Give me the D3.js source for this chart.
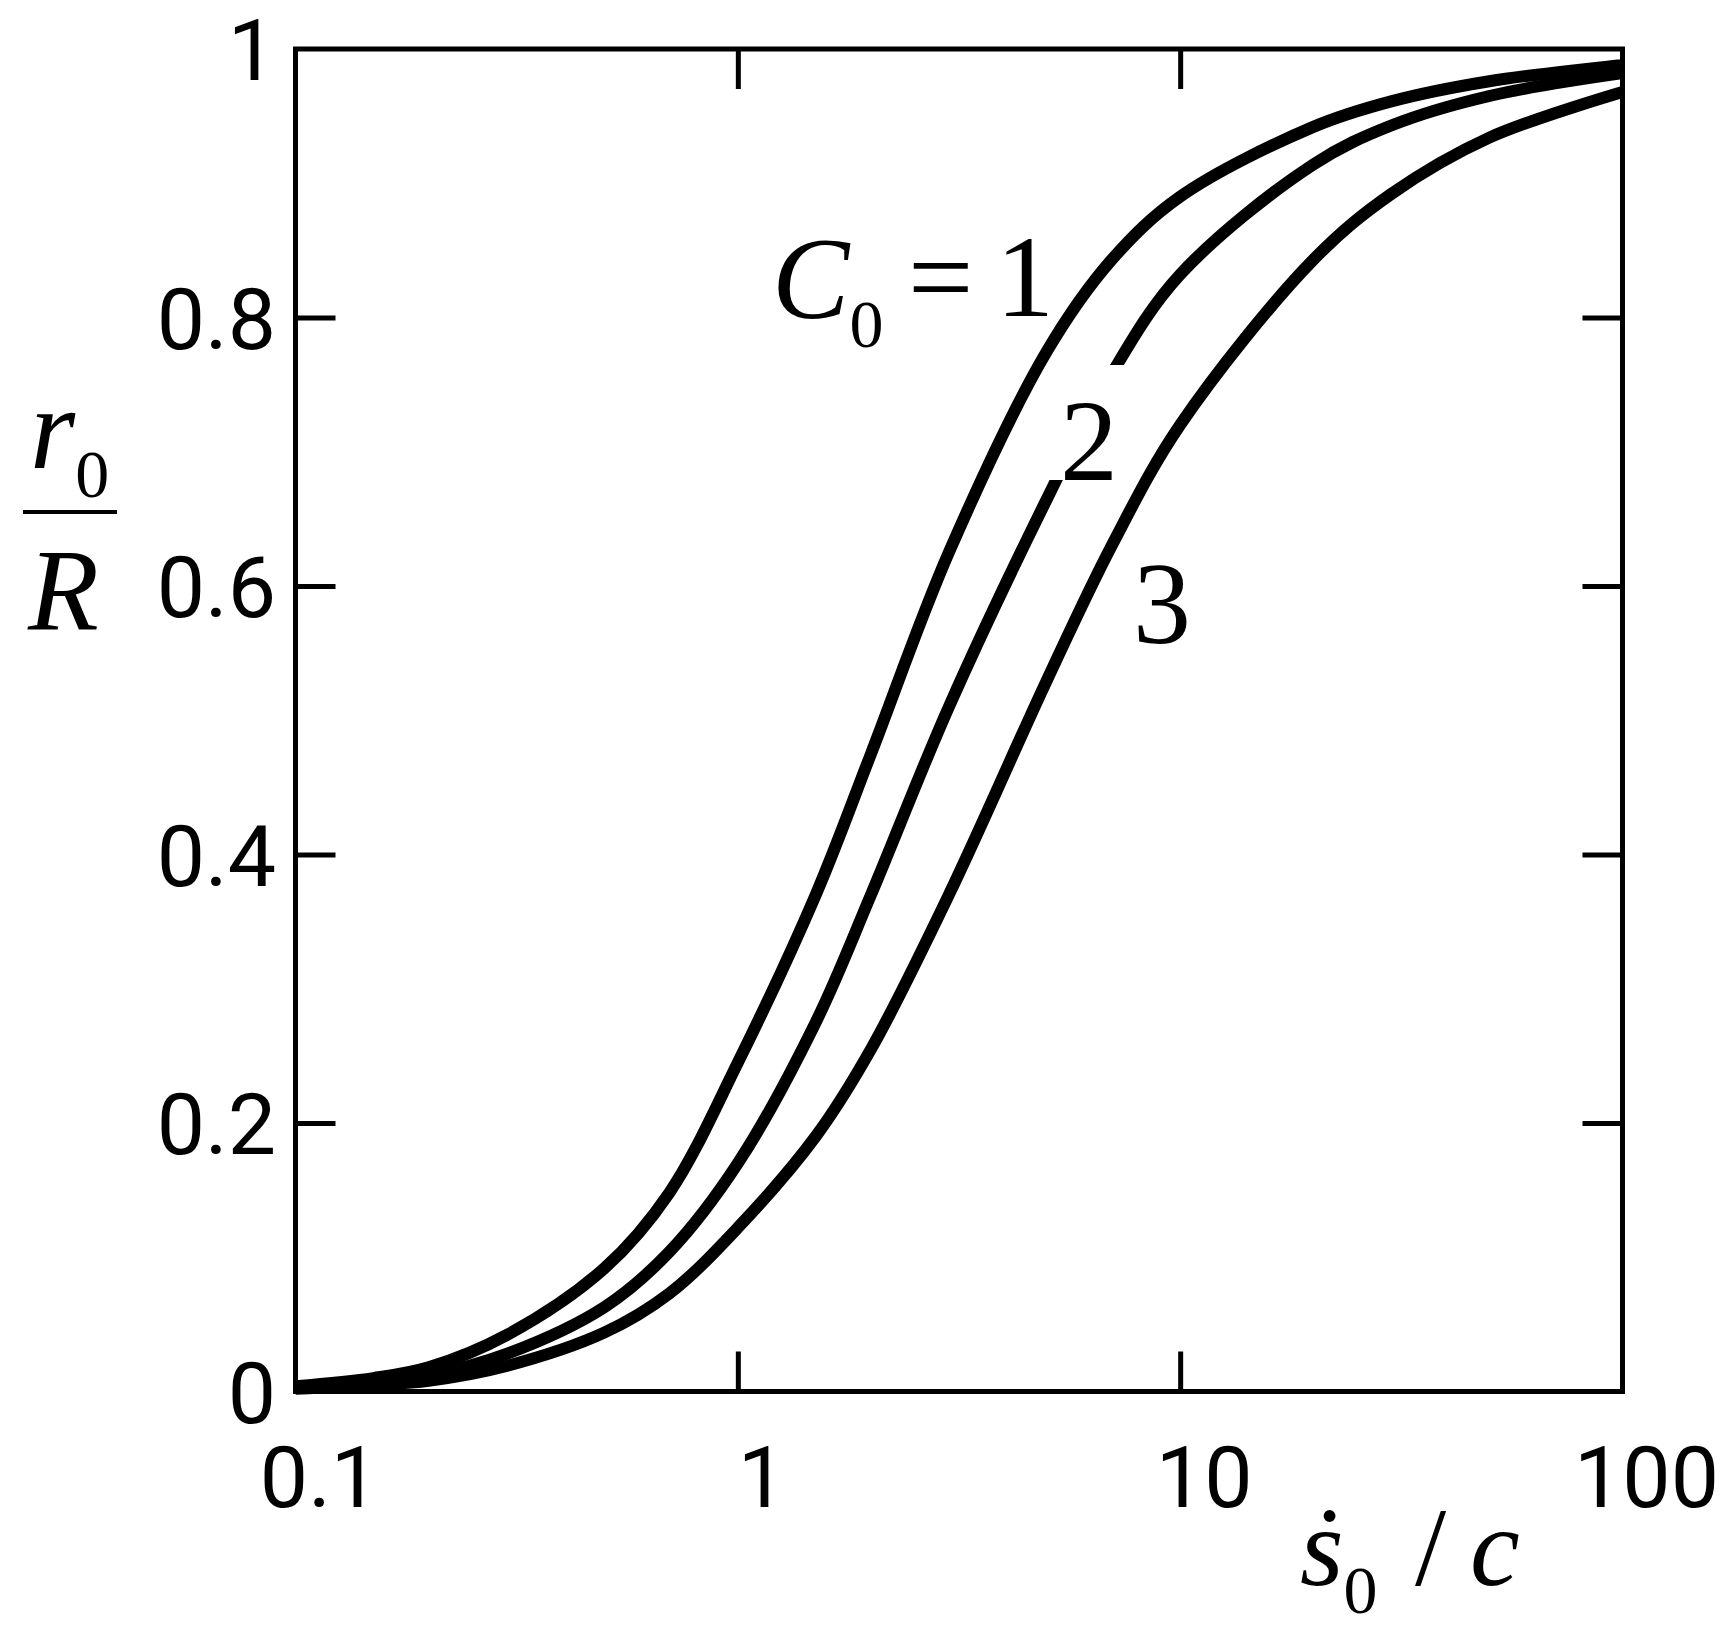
<!DOCTYPE html>
<html lang="en">
<head>
    <meta charset="UTF-8">
    <title>r0/R vs s0/c</title>
    <style>
        html,body{
            margin: 0;
            padding: 0;
            background: #fff;
        }
        svg text{
            fill: #000;
        }
    </style>
</head>
<body>
<div id="container"></div>

<script src="https://d3js.org/d3.v7.min.js"></script>
<script>
    // values
    const sValues = [0.1, 0.15, 0.2, 0.3, 0.5, 0.7, 1, 1.5, 2, 3, 5, 7, 10, 20, 30, 50, 100]
    const curveC1 = [0.004, 0.01, 0.018, 0.042, 0.092, 0.148, 0.245, 0.37, 0.475, 0.625, 0.775, 0.843, 0.89, 0.942, 0.961, 0.976, 0.988]
    const curveC2 = [0.003, 0.007, 0.012, 0.028, 0.063, 0.104, 0.17, 0.275, 0.37, 0.51, 0.665, 0.758, 0.832, 0.914, 0.943, 0.965, 0.982]
    const curveC3 = [0.002, 0.005, 0.008, 0.019, 0.044, 0.073, 0.122, 0.19, 0.255, 0.37, 0.53, 0.63, 0.72, 0.843, 0.892, 0.934, 0.968]
    const xTicks = [0.1, 1, 10, 100]
    const xTickLabels = ['0.1', '1', '10', '100']
    const yTicks = [0, 0.2, 0.4, 0.6, 0.8, 1]
    const yTickLabels = ['0', '0.2', '0.4', '0.6', '0.8', '1']

    const sansFont = 'Roboto, "Liberation Sans", Arial, sans-serif'
    const serifFont = '"Liberation Serif", "Times New Roman", serif'

    const [width, height] = [1731, 1645]
    const plot = {left: 295.5, right: 1622.5, top: 49, bottom: 1391.5}

    const svg = d3.select('#container').append('svg')
        .attr('width', width)
        .attr('height', height)

    const x = d3.scaleLog().domain([0.1, 100]).range([plot.left, plot.right])
    const y = d3.scaleLinear().domain([0, 1]).range([plot.bottom, plot.top])

    // ticks point inward on all four sides
    const tickLen = 40
    function styleAxis(g) {
        g.select('.domain').remove()
        g.selectAll('.tick line').attr('stroke', '#000').attr('stroke-width', 5)
        g.selectAll('.tick text').remove()
    }
    svg.append('g').attr('transform', `translate(0,${plot.bottom})`)
        .call(d3.axisBottom(x).tickValues([1, 10]).tickSize(-tickLen)).call(styleAxis)
    svg.append('g').attr('transform', `translate(0,${plot.top})`)
        .call(d3.axisTop(x).tickValues([1, 10]).tickSize(-tickLen)).call(styleAxis)
    svg.append('g').attr('transform', `translate(${plot.left},0)`)
        .call(d3.axisLeft(y).tickValues([0.2, 0.4, 0.6, 0.8]).tickSize(-tickLen)).call(styleAxis)
    svg.append('g').attr('transform', `translate(${plot.right},0)`)
        .call(d3.axisRight(y).tickValues([0.2, 0.4, 0.6, 0.8]).tickSize(-tickLen)).call(styleAxis)

    // frame
    svg.append('rect')
        .attr('x', plot.left).attr('y', plot.top)
        .attr('width', plot.right - plot.left).attr('height', plot.bottom - plot.top)
        .attr('fill', 'none').attr('stroke', '#000').attr('stroke-width', 5)

    // tick labels
    svg.append('g').style('font-family', sansFont).attr('font-size', 86)
        .selectAll('text').data(xTicks).join('text')
        .attr('x', d => x(d) + 24)
        .attr('y', 1507)
        .attr('text-anchor', 'middle')
        .text((d, i) => xTickLabels[i])
    svg.append('g').style('font-family', sansFont).attr('font-size', 86)
        .selectAll('text').data(yTicks).join('text')
        .attr('x', 276)
        .attr('y', d => y(d) + 31)
        .attr('text-anchor', 'end')
        .text((d, i) => yTickLabels[i])

    const line = d3.line()
        .x(d => x(d[0]))
        .y(d => y(d[1]))
        .curve(d3.curveCatmullRom.alpha(0.5))

    function drawCurve(vals) {
        svg.append('path')
            .datum(sValues.map((s, i) => [s, vals[i]]))
            .attr('d', line)
            .attr('fill', 'none')
            .attr('stroke', '#000')
            .attr('stroke-width', 12)
    }

    drawCurve(curveC3)
    drawCurve(curveC2)
    // white patch behind the "2" label cuts curve 2
    svg.append('rect')
        .attr('x', 1045).attr('y', 365)
        .attr('width', 85).attr('height', 115)
        .attr('fill', '#fff')
    drawCurve(curveC1)

    // subscripts as tspans so each label is one text
    function subText(g, px, py, main, sub, size, subSize, italic) {
        const t = g.append('text').attr('x', px).attr('y', py).attr('font-size', size)
        t.append('tspan').attr('font-style', italic ? 'italic' : 'normal').text(main)
        t.append('tspan').attr('font-size', subSize).attr('dy', size * 0.25).text(sub)
        return t
    }

    // curve labels
    const ann = svg.append('g').style('font-family', serifFont)
    subText(ann, 772, 318, 'C', '0', 116, 68, true)
    ann.append('text').attr('x', 908).attr('y', 316)
        .attr('font-size', 116).text('=')
    ann.append('text').attr('x', 996).attr('y', 316)
        .attr('font-size', 116).text('1')
    ann.append('text').attr('x', 1060).attr('y', 480)
        .attr('font-size', 116).text('2')
    ann.append('text').attr('x', 1133).attr('y', 643)
        .attr('font-size', 116).text('3')

    // y axis title: r0 / R
    const yt = svg.append('g').style('font-family', serifFont)
    subText(yt, 30, 468, 'r', '0', 116, 68, true)
    yt.append('line').attr('x1', 23).attr('x2', 117).attr('y1', 512).attr('y2', 512)
        .attr('stroke', '#000').attr('stroke-width', 4)
    yt.append('text').attr('x', 28).attr('y', 630)
        .attr('font-size', 116).attr('font-style', 'italic').text('R')

    // x axis title: s-dot0 / c
    const xt = svg.append('g').style('font-family', serifFont)
    subText(xt, 1300, 1585, 'ṡ', '0', 112, 68, true)
    xt.append('text').attr('x', 1415).attr('y', 1585)
        .attr('font-size', 112).text('/')
    xt.append('text').attr('x', 1470).attr('y', 1585)
        .attr('font-size', 112).attr('font-style', 'italic').text('c')
</script>
</body>
</html>
